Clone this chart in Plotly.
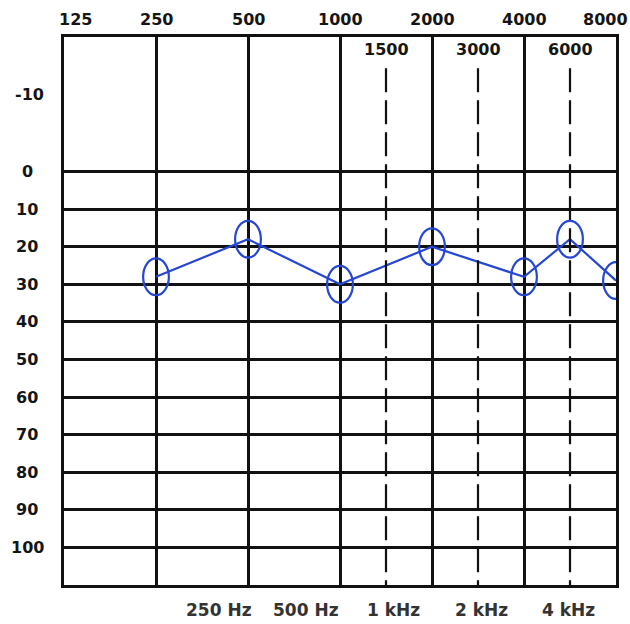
import math
import plotly.graph_objects as go

# ---- data ----
frequencies = [250, 500, 1000, 2000, 4000, 6000, 8000]          # Hz
thresholds = [28, 18, 30, 20, 28, 18, 29]                        # dB HL
octave_freqs = [250, 500, 1000, 2000, 4000]                      # solid grid lines
mid_freqs = [1500, 3000, 6000]                                   # dashed lines
top_labels = ["125", "250", "500", "1000", "2000", "4000", "8000"]
top_label_freqs = [125, 250, 500, 1000, 2000, 4000, 8000]
db_levels = [0, 10, 20, 30, 40, 50, 60, 70, 80, 90, 100]
db_labels = ["0", "10", "20", "30", "40", "50", "60", "70", "80", "90", "100"]
bottom_labels = ["250 Hz", "500 Hz", "1 kHz", "2 kHz", "4 kHz"]


def octave_pos(f):
    # audiogram convention: octaves equally spaced, inter-octave freqs at half steps
    return round(2 * math.log2(f / 125)) / 2


BLUE = "#2646d4"
FONT = "DejaVu Sans, Verdana, sans-serif"
TXT = "#151515"
Y_TOP = -35.8
Y_BOTTOM = 110

fig = go.Figure()

xs = [octave_pos(f) for f in frequencies]
fig.add_trace(go.Scatter(x=xs, y=thresholds, mode="lines",
                         line=dict(color=BLUE, width=2.2), hoverinfo="skip",
                         showlegend=False))

shapes = []
# dashed inter-octave lines
for f in mid_freqs:
    p = octave_pos(f)
    shapes.append(dict(type="line", xref="x", yref="y", x0=p, x1=p, y0=-27.5, y1=Y_BOTTOM,
                       line=dict(color="#111111", width=2.2, dash="24px,8px")))
# hand-drawn style ellipses around each threshold
for x, v in zip(xs, thresholds):
    shapes.append(dict(type="circle", xref="x", yref="y",
                       x0=x - 0.14, x1=x + 0.14, y0=v - 4.9, y1=v + 4.9,
                       line=dict(color=BLUE, width=2.2)))

annotations = []
# top frequency labels
edge_shift = {0: 11, len(top_labels) - 1: -11}
for i, (f, t) in enumerate(zip(top_label_freqs, top_labels)):
    annotations.append(dict(x=octave_pos(f), y=1, xref="x", yref="paper", text=f"<b>{t}</b>",
                            showarrow=False, xanchor="center", yanchor="middle",
                            yshift=18, xshift=edge_shift.get(i, 0),
                            font=dict(family=FONT, size=16, color=TXT)))
# inner labels for inter-octave frequencies
for f in mid_freqs:
    annotations.append(dict(x=octave_pos(f), y=-32.5, xref="x", yref="y", text=f"<b>{f}</b>",
                            showarrow=False, xanchor="center", yanchor="middle",
                            font=dict(family=FONT, size=16, color=TXT)))
# dB labels
for v, t in zip(db_levels, db_labels):
    annotations.append(dict(x=0, y=v, xref="paper", yref="y", text=f"<b>{t}</b>",
                            showarrow=False, xanchor="center", yanchor="middle",
                            xshift=-37, font=dict(family=FONT, size=16, color=TXT)))
annotations.append(dict(x=0, y=-20.5, xref="paper", yref="y", text="<b>-10</b>",
                        showarrow=False, xanchor="center", yanchor="middle",
                        xshift=-35, font=dict(family=FONT, size=16, color=TXT)))
# bottom ruler labels
bottom_pos = [1.68, 2.63, 3.58, 4.54, 5.48]
for p, t in zip(bottom_pos, bottom_labels):
    annotations.append(dict(x=p, y=0, xref="x", yref="paper", text=f"<b>{t}</b>",
                            showarrow=False, xanchor="center", yanchor="middle",
                            yshift=-25, font=dict(family=FONT, size=17, color="#333333")))

fig.update_layout(
    width=630, height=624, autosize=False,
    margin=dict(l=64, r=14, t=37, b=39, pad=0),
    paper_bgcolor="white", plot_bgcolor="white",
    shapes=shapes, annotations=annotations, showlegend=False,
    xaxis=dict(range=[0, 6], tickvals=[octave_pos(f) for f in octave_freqs],
               showticklabels=False, ticks="", showgrid=True, gridcolor="#111111",
               gridwidth=2.5, zeroline=False, showline=True, mirror=True,
               linecolor="#111111", linewidth=3, fixedrange=True),
    yaxis=dict(range=[Y_BOTTOM, Y_TOP], tickvals=db_levels, showticklabels=False,
               ticks="", showgrid=True, gridcolor="#111111", gridwidth=2.5,
               zeroline=False, showline=True, mirror=True, linecolor="#111111",
               linewidth=3, fixedrange=True),
)

fig.write_html("out.html", config={"displayModeBar": False},
               post_script="document.body.style.margin='0';document.body.style.overflow='hidden';")
